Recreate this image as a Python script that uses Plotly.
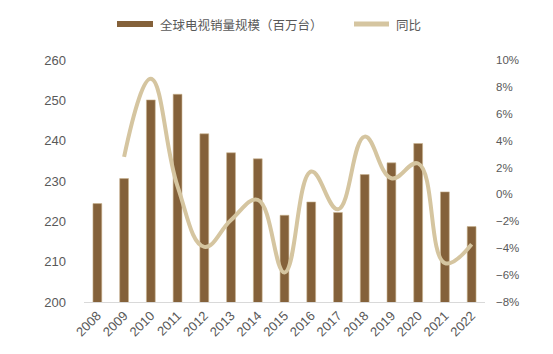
import plotly.graph_objects as go

years = ["2008", "2009", "2010", "2011", "2012", "2013", "2014", "2015",
         "2016", "2017", "2018", "2019", "2020", "2021", "2022"]
sales = [224.4, 230.6, 250.1, 251.5, 241.7, 237.0, 235.5, 221.5,
         224.8, 222.2, 231.6, 234.5, 239.3, 227.3, 218.7]
yoy_years = years[1:]
yoy = [2.8, 8.6, 0.6, -3.9, -1.9, -0.4, -5.8, 1.7, -1.1, 4.3, 1.2, 2.3, -5.1, -3.7]

bar_name = "全球电视销量规模（百万台）"
line_name = "同比"
bar_color = "#84613A"
line_color = "#D5C5A0"
font_cjk = "Noto Sans CJK SC"
tick_color = "#595959"

W, H = 553, 354
ML, MR, MT, MB = 84, 68, 60, 52
PW, PH = W - ML - MR, H - MT - MB


def px(xp):
    return (xp - ML) / PW


def py(yp):
    return (H - MB - yp) / PH


fig = go.Figure()
fig.add_trace(go.Bar(x=years, y=sales, name=bar_name,
                     marker=dict(color=bar_color, line=dict(color="#C9B38F", width=0.6)),
                     width=0.33, showlegend=False))
fig.add_trace(go.Scatter(x=yoy_years, y=yoy, name=line_name, yaxis="y2", mode="lines",
                         line=dict(color=line_color, width=4, shape="spline", smoothing=1.2),
                         showlegend=False))

# manual legend
shapes = [
    dict(type="rect", xref="paper", yref="paper", x0=px(117), x1=px(153), y0=py(27), y1=py(21),
         fillcolor=bar_color, line=dict(width=0)),
    dict(type="line", xref="paper", yref="paper", x0=px(354), x1=px(389), y0=py(24), y1=py(24),
         line=dict(color=line_color, width=5)),
]
annotations = [
    dict(text=bar_name, xref="paper", yref="paper", x=px(158), y=py(24), xanchor="left",
         yanchor="middle", showarrow=False, font=dict(family=font_cjk, size=12.5, color="#595959")),
    dict(text=line_name, xref="paper", yref="paper", x=px(394), y=py(24), xanchor="left",
         yanchor="middle", showarrow=False, font=dict(family=font_cjk, size=12.5, color="#595959")),
]

fig.update_layout(
    width=W, height=H,
    margin=dict(l=ML, r=MR, t=MT, b=MB),
    plot_bgcolor="white", paper_bgcolor="white",
    bargap=0.67,
    showlegend=False,
    shapes=shapes, annotations=annotations,
    font=dict(family="Liberation Sans, Arial", color=tick_color, size=12),
    xaxis=dict(type="category", tickangle=-45, showgrid=False, showline=True,
               linecolor="#D9D9D9", linewidth=1, ticks="", tickfont=dict(size=13, color=tick_color)),
    yaxis=dict(range=[200, 260], dtick=10, showgrid=False, zeroline=False, showline=False,
               ticks="", tickfont=dict(size=13, color=tick_color), ticklabelstandoff=17),
    yaxis2=dict(range=[-8, 10], dtick=2, ticksuffix="%", overlaying="y", side="right",
                showgrid=False, zeroline=False, showline=False, ticks="",
                tickfont=dict(size=11.5, color=tick_color), ticklabelstandoff=10),
)

fig.write_html("out.html")
